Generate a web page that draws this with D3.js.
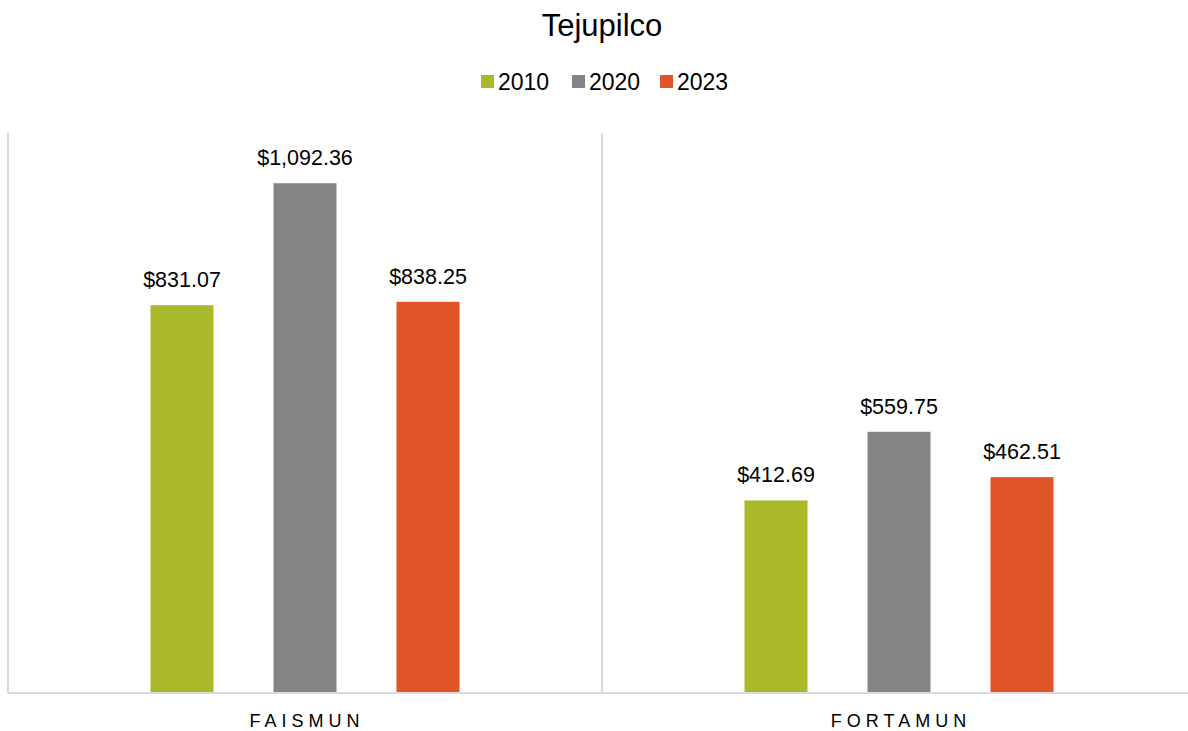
<!DOCTYPE html>
<html>
<head>
<meta charset="utf-8">
<script src="https://cdn.jsdelivr.net/npm/d3@7.9.0/dist/d3.min.js"></script>
<style>
  body { margin: 0; background: #fff; }
  text { font-family: "Liberation Sans", Arial, sans-serif; fill: #000; }
</style>
</head>
<body>
<svg width="1188" height="731"></svg>
<script>
const categories = ['FAISMUN', 'FORTAMUN'];
const years = ['2010', '2020', '2023'];
const values2010 = [831.07, 412.69];
const values2020 = [1092.36, 559.75];
const values2023 = [838.25, 462.51];
const colors = ['#A9B92A', '#848484', '#E05527'];

const series = [values2010, values2020, values2023];

const svg = d3.select('svg');
const plotLeft = 8, plotRight = 1196, plotTop = 133, plotBottom = 693;

let x = d3.scaleBand().domain(categories).range([plotLeft, plotRight]);
let y = d3.scaleLinear().domain([0, 1200]).range([plotBottom, plotTop]);
// bars sit 123px apart, 63px wide
let step = 123, barW = 63;

// title
svg.append('text').attr('x', 602).attr('y', 36)
  .attr('text-anchor', 'middle').style('font-size', '31px').text('Tejupilco');

// legend
let legendX = [481, 572, 660];
years.forEach((yr, i) => {
  svg.append('rect').attr('x', legendX[i]).attr('y', 75)
    .attr('width', 13).attr('height', 13).attr('fill', colors[i]);
  svg.append('text').attr('x', legendX[i] + 17).attr('y', 90)
    .style('font-size', '23px').text(yr);
});

// category separators
d3.range(categories.length + 1).forEach((i) => {
  let xx = plotLeft + i * x.bandwidth();
  svg.append('line').attr('x1', xx).attr('x2', xx)
    .attr('y1', plotTop).attr('y2', plotBottom)
    .attr('stroke', '#D9D9D9').attr('stroke-width', 2);
});

// bars
categories.forEach((cat, ci) => {
  let cx = x(cat) + x.bandwidth() / 2;
  series.forEach((vals, si) => {
    let bx = cx + (si - 1) * step - barW / 2;
    svg.append('rect')
      .attr('x', bx).attr('y', y(vals[ci]))
      .attr('width', barW).attr('height', plotBottom - y(vals[ci]))
      .attr('fill', colors[si]);
    svg.append('text')
      .attr('x', bx + barW / 2).attr('y', y(vals[ci]) - 18)
      .attr('text-anchor', 'middle').style('font-size', '21.5px')
      .text('$' + d3.format(',.2f')(vals[ci]));
  });
});

// axis line
svg.append('line').attr('x1', plotLeft).attr('x2', plotRight)
  .attr('y1', plotBottom).attr('y2', plotBottom)
  .attr('stroke', '#D9D9D9').attr('stroke-width', 2);

// category labels
categories.forEach((cat) => {
  svg.append('text')
    .attr('x', x(cat) + x.bandwidth() / 2 + 2).attr('y', 727)
    .attr('text-anchor', 'middle').style('font-size', '18px')
    .style('letter-spacing', '5px').text(cat);
});
</script>
</body>
</html>
